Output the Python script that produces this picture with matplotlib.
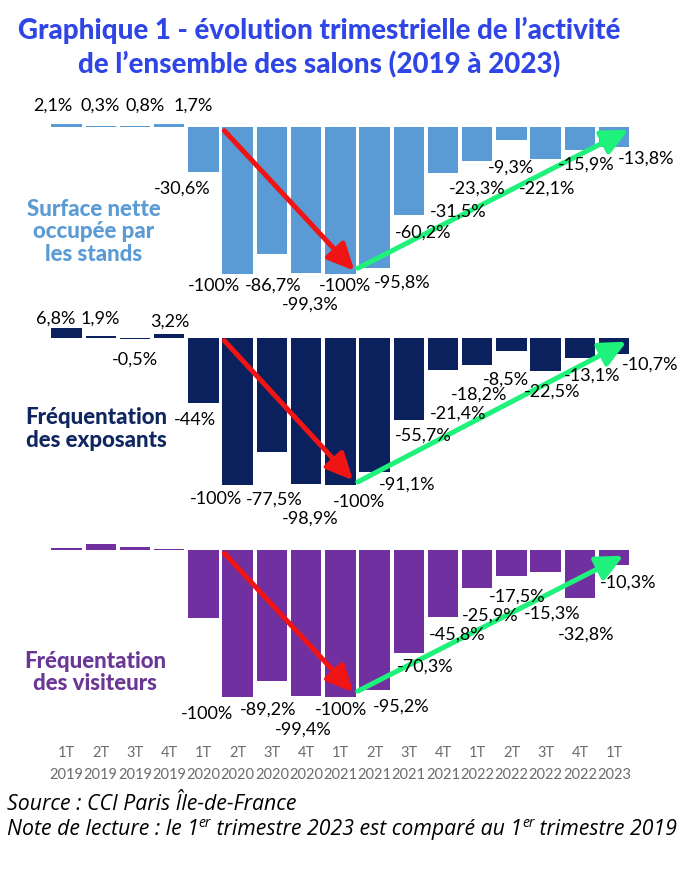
import matplotlib
matplotlib.use('Agg')
import matplotlib.pyplot as plt
from matplotlib.transforms import blended_transform_factory

# ---------------- data ----------------
quarters = ['1T', '2T', '3T', '4T', '1T', '2T', '3T', '4T', '1T',
            '2T', '3T', '4T', '1T', '2T', '3T', '4T', '1T']
years = ['2019'] * 4 + ['2020'] * 4 + ['2021'] * 4 + ['2022'] * 4 + ['2023']

surface = [2.1, 0.3, 0.8, 1.7, -30.6, -100, -86.7, -99.3, -100,
           -95.8, -60.2, -31.5, -23.3, -9.3, -22.1, -15.9, -13.8]
exposants = [6.8, 1.9, -0.5, 3.2, -44, -100, -77.5, -98.9, -100,
             -91.1, -55.7, -21.4, -18.2, -8.5, -22.5, -13.1, -10.7]
visiteurs = [1.1, 4.0, 2.2, 0.4, -46, -100, -89.2, -99.4, -100,
             -95.2, -70.3, -45.8, -25.9, -17.5, -15.3, -32.8, -10.3]
visiteurs_shown = [False] * 5 + [True] * 12

panel_names = ['Surface nette\noccupée par\nles stands',
               'Fréquentation\ndes exposants',
               'Fréquentation\ndes visiteurs']

title = "Graphique 1 - évolution trimestrielle de l’activité\nde l’ensemble des salons (2019 à 2023)"
source = "Source : CCI Paris Île-de-France"

# label placement (data coordinates) per panel
lab_x1 = [-0.39, 0.98, 2.29, 3.69, 3.37, 4.31, 6.03, 7.12, 8.13, 9.82, 10.42, 11.43, 12.01, 12.99, 14.05, 15.18, 16.93]
lab_y1 = [14.8, 14.8, 14.8, 14.8, -41.7, -107.6, -107.6, -120.6, -107.6, -105.4, -71.2, -57.1, -41.2, -27.2, -41.2, -25.4, -20.8]
lab_x2 = [-0.31, 0.98, 2.01, 3.01, 3.76, 4.37, 6.07, 7.12, 8.55, 9.94, 10.42, 11.43, 12.06, 12.84, 14.19, 15.37, 17.05]
lab_y2 = [14.3, 14.3, -14.1, 12.0, -54.9, -108.8, -108.8, -121.8, -110.5, -99.1, -65.8, -50.8, -37.9, -27.7, -35.6, -25.0, -17.5]
lab_x3 = [0, 0, 0, 0, 0, 4.10, 5.90, 6.91, 8.03, 9.77, 10.47, 11.40, 12.37, 13.16, 14.20, 15.18, 16.42]
lab_y3 = [0, 0, 0, 0, 0, -110.9, -108.2, -121.3, -108.2, -105.9, -78.7, -57.1, -44.2, -31.1, -42.4, -56.7, -21.6]

# arrows (data coordinates): (x0, y0, x1, y1)
red_arrows = [(4.61, -2.7, 8.41, -98.0), (4.61, -1.6, 8.37, -96.6), (4.61, -2.2, 8.38, -96.8)]
green_arrows = [(8.51, -96.3, 16.42, -2.0), (8.51, -97.7, 16.36, -2.3), (8.51, -96.0, 16.27, -3.9)]

# ---------------- style ----------------
W, H = 686, 870
S = 1.47                       # pixels per percentage point
L_PX, R_PX = 49.4, 631.3
YMIN, YMAX = -105, 10
zeros_px = [127.7, 339.3, 551.0]
bar_colors = ['#5b9bd5', '#0b215e', '#7030a0']
name_colors = ['#5b9bd5', '#0f2660', '#6a3796']
name_pos = [(93.4, 232), (96.7, 429), (95.0, 672.5)]
TITLE_COLOR = '#2f45e6'
LABEL_FONT = ['Lato', 'DejaVu Sans']
NOTE_FONT = ['Open Sans', 'DejaVu Sans']
BOLD_FONT = ['Lato', 'Liberation Sans', 'DejaVu Sans']

fig = plt.figure(figsize=(W / 100, H / 100), dpi=100)
fig.patch.set_facecolor('white')


def fmt(v):
    if float(v).is_integer():
        s = f"{int(v)}"
    else:
        s = f"{v:.1f}".replace('.', ',')
    return s + '%'


series = [surface, exposants, visiteurs]
shown = [[True] * 17, [True] * 17, visiteurs_shown]
labx = [lab_x1, lab_x2, lab_x3]
laby = [lab_y1, lab_y2, lab_y3]

axes = []
for k in range(3):
    z = zeros_px[k]
    top = z - YMAX * S
    bottom = z - YMIN * S
    ax = fig.add_axes([L_PX / W, 1 - bottom / H, (R_PX - L_PX) / W, (bottom - top) / H])
    ax.set_xlim(-0.5, 16.5)
    ax.set_ylim(YMIN, YMAX)
    ax.axis('off')
    xs = list(range(len(series[k])))
    ax.bar(xs, series[k], width=0.89, color=bar_colors[k], zorder=2)
    for i, v in enumerate(series[k]):
        if shown[k][i]:
            ax.text(labx[k][i], laby[k][i], fmt(v), ha='center', va='center',
                    fontsize=13, family=LABEL_FONT, color='black', zorder=5,
                    clip_on=False)
    x0, y0, x1, y1 = red_arrows[k]
    ax.annotate('', xy=(x1, y1), xytext=(x0, y0), zorder=4,
                arrowprops=dict(arrowstyle='-|>,head_length=0.8,head_width=0.38',
                                lw=3.6, color='#f01414', mutation_scale=20,
                                shrinkA=0, shrinkB=0))
    x0, y0, x1, y1 = green_arrows[k]
    ax.annotate('', xy=(x1, y1), xytext=(x0, y0), zorder=4,
                arrowprops=dict(arrowstyle='-|>,head_length=0.8,head_width=0.38',
                                lw=3.6, color='#1ef27a', mutation_scale=20,
                                shrinkA=0, shrinkB=0))
    nx, ny = name_pos[k]
    fig.text(nx / W, 1 - ny / H, panel_names[k], ha='center', va='center',
             fontsize=16, fontweight='black', family=BOLD_FONT,
             color=name_colors[k], linespacing=1.1)
    axes.append(ax)

# x tick labels under last panel
ax3 = axes[2]
tr = blended_transform_factory(ax3.transData, fig.transFigure)
for i, (q, yr) in enumerate(zip(quarters, years)):
    ax3.text(i, 1 - 752.7 / H, q, transform=tr, ha='center', va='center',
             fontsize=10.5, family=LABEL_FONT, color='#6b6b6b')
    ax3.text(i, 1 - 775 / H, yr, transform=tr, ha='center', va='center',
             fontsize=10.5, family=LABEL_FONT, color='#6b6b6b')

# title
fig.text(319 / W, 1 - 47.5 / H, title, ha='center', va='center', fontsize=20,
         fontweight='black', family=BOLD_FONT, color=TITLE_COLOR, linespacing=1.3)

# source and note
fig.text(6.6 / W, 1 - 810.5 / H, source, ha='left', va='baseline', fontsize=15.3,
         style='italic', family=NOTE_FONT, color='black')

fig.canvas.draw()
renderer = fig.canvas.get_renderer()
pieces = [("Note de lecture : le 1", False), ("er", True),
          (" trimestre 2023 est comparé au 1", False), ("er", True),
          (" trimestre 2019", False)]
xpos = 6.6
for txt, sup in pieces:
    yb = 835 - (7.5 if sup else 0)
    t = fig.text(xpos / W, 1 - yb / H, txt, ha='left', va='baseline',
                 fontsize=10 if sup else 15.3, style='italic', family=NOTE_FONT,
                 color='black')
    bb = t.get_window_extent(renderer=renderer)
    xpos += bb.width

fig.savefig('out.png', dpi=100, facecolor='white')
